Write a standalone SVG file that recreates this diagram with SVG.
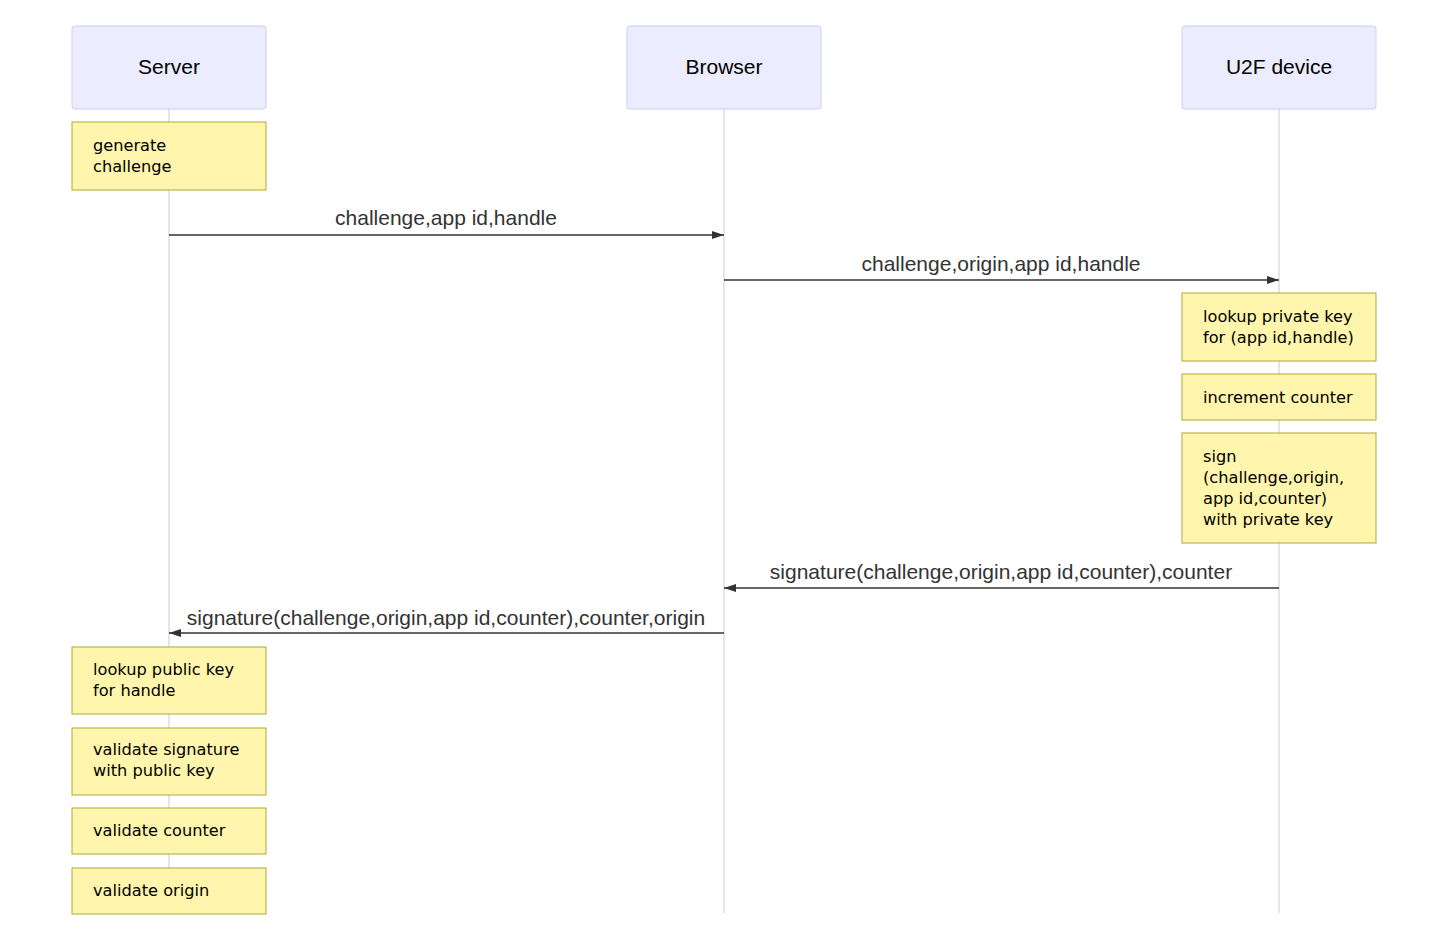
<svg xmlns="http://www.w3.org/2000/svg" width="1440" height="940" viewBox="0 0 1440 940">
<style>
.actor{fill:#ECECFF;stroke:#CCCCFF;stroke-width:1}
.atext{font-family:"Liberation Sans",Arial,sans-serif;font-size:21px;fill:#000;text-anchor:middle}
.life{stroke:#cccccc;stroke-width:1}
.note{fill:#FFF5AD;stroke:#AAAA33;stroke-width:1}
.ntext{font-family:"DejaVu Sans",Verdana,sans-serif;font-size:16.2px;fill:#000}
.msg{stroke:#333;stroke-width:1.5;fill:none}
.mtext{font-family:"Liberation Sans",Arial,sans-serif;font-size:21px;fill:#333;text-anchor:middle}
</style>
<defs>
<marker id="arrow" viewBox="0 0 12 8" refX="12" refY="4" markerWidth="12" markerHeight="8" markerUnits="userSpaceOnUse" orient="auto">
<path d="M0,0 L12,4 L0,8 z" fill="#333"/>
</marker>
</defs>
<rect width="1440" height="940" fill="#fff"/>
<g id="lifelines">
<line class="life" x1="169" y1="109" x2="169" y2="913"/>
<line class="life" x1="724" y1="109" x2="724" y2="913"/>
<line class="life" x1="1279" y1="109" x2="1279" y2="913"/>
</g>
<g id="server"><rect class="actor" x="72" y="26" width="194" height="83" rx="3"/><text class="atext" x="169" y="74">Server</text></g>
<g id="browser"><rect class="actor" x="627" y="26" width="194" height="83" rx="3"/><text class="atext" x="724" y="74">Browser</text></g>
<g id="u2f"><rect class="actor" x="1182" y="26" width="194" height="83" rx="3"/><text class="atext" x="1279" y="74">U2F device</text></g>
<g id="note1"><rect class="note" x="72" y="122" width="194" height="68"/><text class="ntext" x="93" y="151">generate</text><text class="ntext" x="93" y="172">challenge</text></g>
<g id="note2"><rect class="note" x="1182" y="293" width="194" height="68"/><text class="ntext" x="1203" y="322">lookup private key</text><text class="ntext" x="1203" y="343">for (app id,handle)</text></g>
<g id="note3"><rect class="note" x="1182" y="374" width="194" height="46"/><text class="ntext" x="1203" y="403">increment counter</text></g>
<g id="note4"><rect class="note" x="1182" y="433" width="194" height="110"/><text class="ntext" x="1203" y="462">sign</text><text class="ntext" x="1203" y="483">(challenge,origin,</text><text class="ntext" x="1203" y="504">app id,counter)</text><text class="ntext" x="1203" y="525">with private key</text></g>
<g id="note5"><rect class="note" x="72" y="647" width="194" height="67"/><text class="ntext" x="93" y="675">lookup public key</text><text class="ntext" x="93" y="696">for handle</text></g>
<g id="note6"><rect class="note" x="72" y="728" width="194" height="67"/><text class="ntext" x="93" y="755">validate signature</text><text class="ntext" x="93" y="776">with public key</text></g>
<g id="note7"><rect class="note" x="72" y="808" width="194" height="46"/><text class="ntext" x="93" y="836">validate counter</text></g>
<g id="note8"><rect class="note" x="72" y="868" width="194" height="46"/><text class="ntext" x="93" y="896">validate origin</text></g>
<g id="connectors">
<line class="msg" x1="169" y1="235" x2="724" y2="235" marker-end="url(#arrow)"/>
<text class="mtext" x="446" y="225">challenge,app id,handle</text>
<line class="msg" x1="724" y1="280" x2="1279" y2="280" marker-end="url(#arrow)"/>
<text class="mtext" x="1001" y="271">challenge,origin,app id,handle</text>
<line class="msg" x1="1279" y1="588" x2="724" y2="588" marker-end="url(#arrow)"/>
<text class="mtext" x="1001" y="579">signature(challenge,origin,app id,counter),counter</text>
<line class="msg" x1="724" y1="633" x2="169" y2="633" marker-end="url(#arrow)"/>
<text class="mtext" x="446" y="625">signature(challenge,origin,app id,counter),counter,origin</text>
</g>
</svg>
